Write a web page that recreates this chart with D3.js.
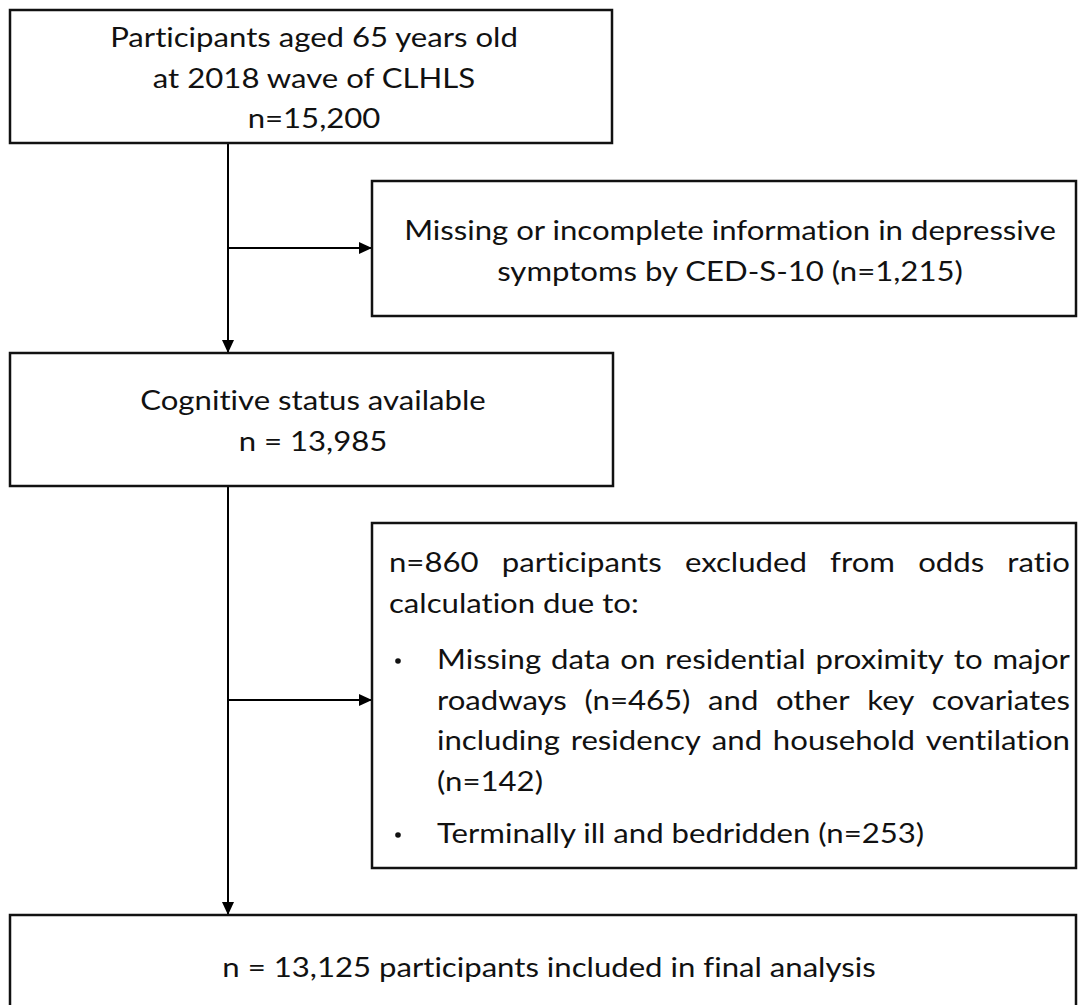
<!DOCTYPE html>
<html>
<head>
<meta charset="utf-8">
<script src="https://cdn.jsdelivr.net/npm/d3@7"></script>
<style>
	body { margin: 0; background: #fff; }
	text { font-variant-ligatures: none; font-feature-settings: "liga" 0, "clig" 0; }
</style>
</head>
<body>
<svg id="chart" width="1078" height="1005"></svg>
<script>
// box contents
var topLines = ['Participants aged 65 years old', 'at 2018 wave of CLHLS', 'n=15,200'];
var missingLines = ['Missing or incomplete information in depressive', 'symptoms by CED-S-10 (n=1,215)'];
var cognitiveLines = ['Cognitive status available', 'n = 13,985'];
var excludedIntro = ['n=860 participants excluded from odds ratio', 'calculation due to:'];
var excludedBullets = [
	['Missing data on residential proximity to major', 'roadways (n=465) and other key covariates', 'including residency and household ventilation', '(n=142)'],
	['Terminally ill and bedridden (n=253)']
];
var finalLines = ['n = 13,125 participants included in final analysis'];

var svg = d3.select('#chart'),
	font = 'Lato, "Open Sans", sans-serif',
	fs = 27,
	lineH = 40.7;

// calibrate a horizontal squeeze so the substitute font runs as wide as the original
var probe = svg.append('text').attr('font-family', font).attr('font-size', fs).text(topLines[0]);
function textWidth(s) { probe.text(s); return probe.node().getComputedTextLength(); }
var k = 408 / textWidth(topLines[0]);

var defs = svg.append('defs');
defs.append('marker')
	.attr('id', 'arrow')
	.attr('markerUnits', 'userSpaceOnUse')
	.attr('markerWidth', 13).attr('markerHeight', 12)
	.attr('refX', 13).attr('refY', 6)
	.attr('orient', 'auto')
	.append('path')
	.attr('d', 'M0,0L13,6L0,12Z')
	.attr('fill', '#000');

var boxes = [
	{ x: 10, y: 10, w: 602, h: 133 },
	{ x: 372, y: 181, w: 704, h: 135 },
	{ x: 10, y: 353, w: 603, h: 133 },
	{ x: 372, y: 523, w: 704, h: 345 },
	{ x: 10, y: 915, w: 1066, h: 110 }
];

var links = [
	[[228, 143], [228, 353]],
	[[228, 248], [372, 248]],
	[[228, 486], [228, 915]],
	[[228, 700], [372, 700]]
];

var line = d3.line();

svg.selectAll('path.link')
	.data(links)
	.enter().append('path')
	.attr('class', 'link')
	.attr('d', line)
	.attr('fill', 'none')
	.attr('stroke', '#000')
	.attr('stroke-width', 2)
	.attr('marker-end', 'url(#arrow)');

svg.selectAll('rect.box')
	.data(boxes)
	.enter().append('rect')
	.attr('class', 'box')
	.attr('x', function (d) { return d.x; })
	.attr('y', function (d) { return d.y; })
	.attr('width', function (d) { return d.w; })
	.attr('height', function (d) { return d.h; })
	.attr('fill', '#fff')
	.attr('stroke', '#111')
	.attr('stroke-width', 2.5);

function centered(lines, cx, y0) {
	svg.append('g').selectAll('text')
		.data(lines)
		.enter().append('text')
		.attr('transform', function (d, i) { return 'translate(' + cx + ',' + (y0 + i * lineH) + ') scale(' + k + ',1)'; })
		.attr('text-anchor', 'middle')
		.attr('font-family', font)
		.attr('font-size', fs)
		.attr('fill', '#111')
		.text(function (d) { return d; });
}

// one paragraph, justified except its last line
function justified(lines, x0, x1, y0) {
	lines.forEach(function (s, i) {
		var t = svg.append('text')
			.attr('transform', 'translate(' + x0 + ',' + (y0 + i * lineH) + ') scale(' + k + ',1)')
			.attr('font-family', font)
			.attr('font-size', fs)
			.attr('fill', '#111');
		var words = s.split(' ');
		if (i == lines.length - 1 || words.length < 2) {
			t.text(s);
			return;
		}
		var widths = words.map(textWidth),
			total = d3.sum(widths),
			gap = ((x1 - x0) / k - total) / (words.length - 1),
			pos = 0;
		words.forEach(function (w, j) {
			t.append('tspan').attr('x', pos).text(w);
			pos += widths[j] + gap;
		});
	});
}

centered(topLines, 314, 47);
centered(missingLines, 730, 240);
centered(cognitiveLines, 313, 410);
centered(finalLines, 549, 977);

justified(excludedIntro, 389, 1070, 572);
var by = [669, 843];
excludedBullets.forEach(function (p, i) {
	svg.append('circle')
		.attr('cx', 398).attr('cy', by[i] - 8)
		.attr('r', 2.8)
		.attr('fill', '#111');
	justified(p, 437, 1070, by[i]);
});

probe.remove();
</script>
</body>
</html>
